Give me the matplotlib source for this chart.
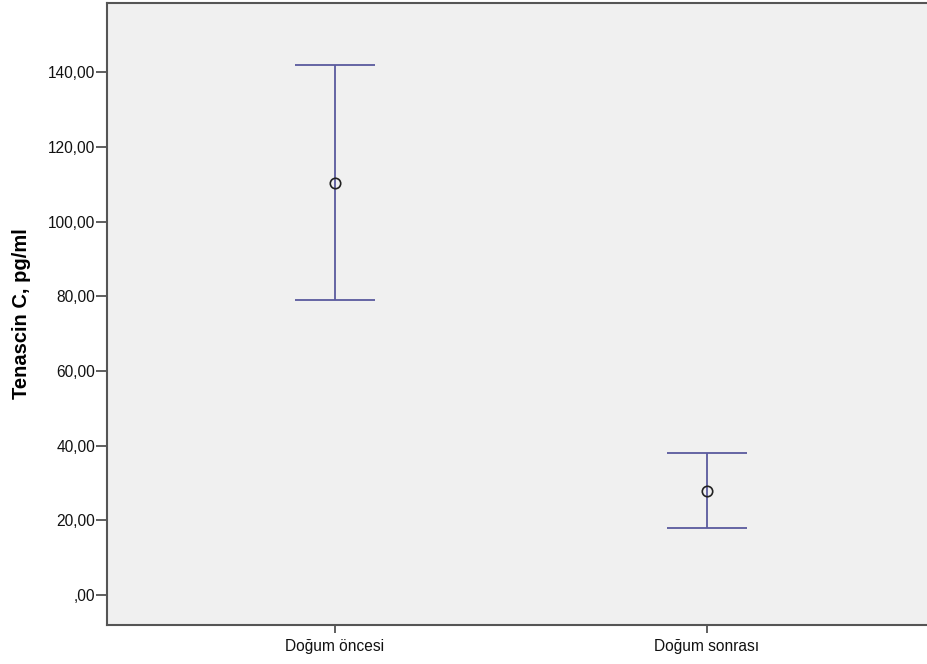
import matplotlib
matplotlib.use("Agg")
import matplotlib.pyplot as plt

# Group means and 95% CI bounds
groups = ["Doğum öncesi", "Doğum sonrası"]
means = [110.3, 27.8]
ci_low = [79.1, 17.9]
ci_high = [141.8, 38.0]

yticks = [0, 20, 40, 60, 80, 100, 120, 140]
ytick_labels = [",00", "20,00", "40,00", "60,00", "80,00", "100,00", "120,00", "140,00"]

plt.rcParams["font.family"] = ["Liberation Sans", "DejaVu Sans"]

fig = plt.figure(figsize=(9.28, 6.64), dpi=100)
ax = fig.add_axes([107.5 / 928, 39 / 664, 1 - 107.5 / 928, 622 / 664])
ax.set_facecolor("#f0f0f0")

xs = list(range(len(groups)))
err_lo = [m - l for m, l in zip(means, ci_low)]
err_hi = [h - m for m, h in zip(means, ci_high)]
ax.errorbar(xs, means, yerr=[err_lo, err_hi], fmt="none", ecolor="#5a5a9e",
            elinewidth=1.3, capsize=29, capthick=1.3, zorder=2)
ax.plot(xs, means, "o", mfc="none", mec="#222222", ms=7.5, mew=1.2, zorder=3)

ax.set_xlim(-0.611, 1.594)
ax.set_ylim(-8.0, 158.5)
ax.set_xticks(xs)
ax.set_xticklabels(groups, fontsize=11.2, color="#111111")
ax.set_yticks(yticks)
ax.set_yticklabels(ytick_labels, fontsize=11.2, color="#111111")
ax.tick_params(axis="y", length=8, width=1.2, color="#444444", pad=1)
ax.tick_params(axis="x", length=6, width=1.2, color="#444444", pad=4)
ax.set_ylabel("Tenascin C, pg/ml", fontsize=14.5, fontweight="bold", labelpad=12)

for side in ["left", "bottom", "top"]:
    ax.spines[side].set_color("#555555")
    ax.spines[side].set_linewidth(1.5)
ax.spines["right"].set_visible(False)

fig.savefig("out.png", dpi=100)
